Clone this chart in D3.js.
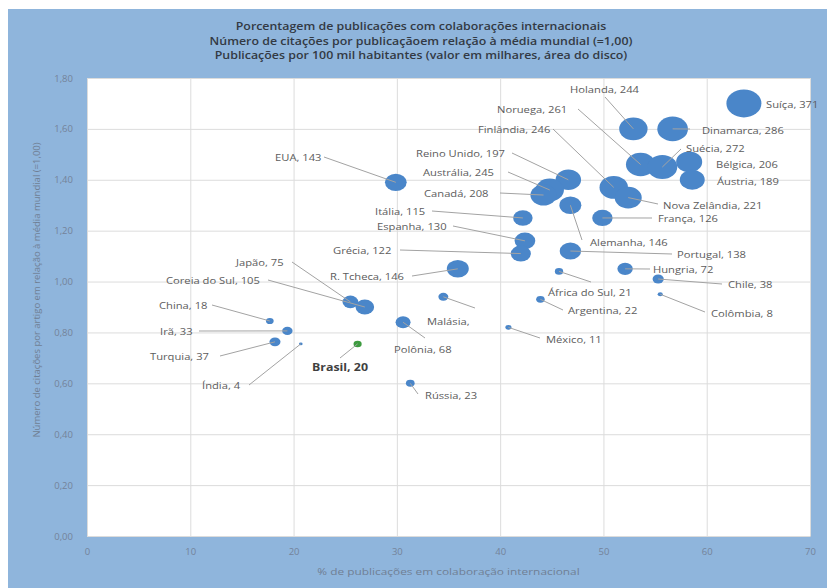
<!DOCTYPE html>
<html>
<head>
<meta charset="utf-8">
<script src="https://cdn.jsdelivr.net/npm/d3@7"></script>
<style>
  body { margin: 0; background: #fff; }
  text { font-family: "Open Sans", sans-serif; }
</style>
</head>
<body>
<div id="chart"></div>
<script>
// data
const countries = ["Suíça", "Holanda", "Dinamarca", "Noruega", "Suécia", "Bélgica", "Áustria",
    "Finlândia", "Nova Zelândia", "Reino Unido", "Austrália", "Canadá", "Alemanha", "França",
    "Itália", "Espanha", "Grécia", "Portugal", "Hungria", "Chile", "Colômbia", "África do Sul",
    "Argentina", "México", "Malásia", "R. Tcheca", "Polônia", "Rússia", "Brasil", "Índia",
    "Japão", "Coreia do Sul", "China", "Irã", "Turquia", "EUA"];
const colab = [63.6, 52.9, 56.7, 53.6, 55.7, 58.3, 58.6,
    51.0, 52.4, 46.6, 44.8, 44.2, 46.8, 49.9,
    42.2, 42.4, 42.0, 46.8, 52.1, 55.3, 55.5, 45.7,
    43.9, 40.8, 34.5, 35.9, 30.6, 31.3, 26.2, 20.7,
    25.5, 26.9, 17.7, 19.4, 18.2, 29.9];
const citacoes = [1.70, 1.60, 1.60, 1.46, 1.45, 1.47, 1.40,
    1.37, 1.33, 1.40, 1.36, 1.34, 1.30, 1.25,
    1.25, 1.16, 1.11, 1.12, 1.05, 1.01, 0.95, 1.04,
    0.93, 0.82, 0.94, 1.05, 0.84, 0.60, 0.755, 0.755,
    0.92, 0.90, 0.845, 0.806, 0.763, 1.39];
const pubs = [371, 244, 286, 261, 272, 206, 189,
    246, 221, 197, 245, 208, 146, 126,
    115, 130, 122, 138, 72, 38, 8, 21,
    22, 11, 30, 146, 68, 23, 20, 4,
    75, 105, 18, 33, 37, 143];
const xTicks = [0, 10, 20, 30, 40, 50, 60, 70];
const yTicks = [0, 0.2, 0.4, 0.6, 0.8, 1.0, 1.2, 1.4, 1.6, 1.8];
const titleLines = [
    "Porcentagem de publicações com colaborações internacionais",
    "Número de citações por publicaçãoem relação à média mundial (=1,00)",
    "Publicações por 100 mil habitantes (valor em milhares, área do disco)"
];

// where each label sits (text left, text middle, start of leader line)
const labelPos = {
    "Suíça": [766, 104], "Holanda": [570, 89, 605, 97], "Dinamarca": [702, 130, 690, 129],
    "Noruega": [497, 109, 578, 109], "Suécia": [686, 148, 681, 149], "Bélgica": [716, 164],
    "Áustria": [717, 181], "Finlândia": [478, 129, 553, 129], "Nova Zelândia": [663, 205, 658, 204],
    "Reino Unido": [416, 153, 512, 153], "Austrália": [423, 172, 508, 172], "Canadá": [424, 193, 500, 193],
    "Alemanha": [590, 242, 582, 240], "França": [658, 218, 652, 218], "Itália": [375, 211, 432, 211],
    "Espanha": [377, 226, 453, 226], "Grécia": [333, 250, 400, 250], "Portugal": [677, 254, 672, 254],
    "Hungria": [653, 269, 650, 269], "Chile": [728, 284, 722, 284], "Colômbia": [711, 313, 705, 312],
    "África do Sul": [548, 292, 591, 282], "Argentina": [568, 310, 563, 310], "México": [546, 339, 540, 338],
    "Malásia": [427, 321, 475, 308], "R. Tcheca": [330, 276, 412, 276], "Polônia": [394, 349, 425, 338],
    "Rússia": [425, 395, 418, 394], "Brasil": [312, 367, 340, 358], "Índia": [202, 385, 249, 385],
    "Japão": [236, 262, 292, 262], "Coreia do Sul": [166, 280, 268, 280], "China": [159, 305, 212, 305],
    "Irã": [160, 331, 199, 331], "Turquia": [150, 356, 220, 356], "EUA": [275, 157, 324, 157]
};

let width = 827, height = 588;
let plot = {left: 87, right: 810, top: 78, bottom: 536};
let stretch = 1.18; // the source picture is widened a little

let svg = d3.select("#chart").append("svg")
    .attr("width", width)
    .attr("height", height);

// blue frame
svg.append("rect")
    .attr("x", 8).attr("y", 9)
    .attr("width", width - 8).attr("height", height - 9)
    .attr("fill", "#8fb5dc");

svg.append("rect")
    .attr("x", plot.left).attr("y", plot.top)
    .attr("width", plot.right - plot.left).attr("height", plot.bottom - plot.top)
    .attr("fill", "#ffffff");

let x = d3.scaleLinear().domain([0, 70]).range([plot.left, plot.right]);
let y = d3.scaleLinear().domain([0, 1.8]).range([plot.bottom, plot.top]);
let r = d3.scaleSqrt().domain([0, 371]).range([0, 14]);

let fmt = d => d3.format(".2f")(d).replace(".", ",");

// grid
svg.append("g")
    .attr("transform", "translate(0," + plot.bottom + ")")
    .call(d3.axisBottom(x).tickValues(xTicks).tickSize(-(plot.bottom - plot.top)).tickFormat(""))
    .call(g => g.select(".domain").attr("stroke", "#cfcfcf"))
    .call(g => g.selectAll(".tick line").attr("stroke", "#dcdcdc"));

svg.append("g")
    .attr("transform", "translate(" + plot.left + ",0)")
    .call(d3.axisLeft(y).tickValues(yTicks).tickSize(-(plot.right - plot.left)).tickFormat(""))
    .call(g => g.select(".domain").remove())
    .call(g => g.selectAll(".tick line").attr("stroke", "#dcdcdc"));

// tick labels
svg.append("g")
    .attr("transform", "translate(0," + plot.bottom + ")")
    .call(d3.axisBottom(x).tickValues(xTicks).tickSize(0).tickPadding(12))
    .call(g => g.select(".domain").remove())
    .call(g => g.selectAll("text").attr("fill", "#74839a").style("font-size", "9.5px")
        .style("font-family", "'Open Sans', sans-serif"));

svg.append("g")
    .attr("transform", "translate(" + (plot.left - 14) + ",0)")
    .call(d3.axisLeft(y).tickValues(yTicks).tickSize(0).tickPadding(0).tickFormat(fmt))
    .call(g => g.select(".domain").remove())
    .call(g => g.selectAll("text").attr("fill", "#74839a").style("font-size", "9.5px")
        .style("font-family", "'Open Sans', sans-serif"));

// axis titles
svg.append("text")
    .attr("transform", "translate(" + ((plot.left + plot.right) / 2) + ",575) scale(1.25,1)")
    .attr("text-anchor", "middle")
    .attr("fill", "#6f7f94")
    .style("font-size", "9.5px")
    .text("% de publicações em colaboração internacional");

svg.append("text")
    .attr("transform", "translate(40," + 290 + ") rotate(-90)")
    .attr("text-anchor", "middle")
    .attr("fill", "#6f7f94")
    .style("font-size", "9.5px")
    .text("Número de citações por artigo em relação à média mundial (=1,00)");

// title
svg.append("g").selectAll("text")
    .data(titleLines).enter()
    .append("text")
    .attr("transform", (d, i) => "translate(421," + (30 + i * 14.5) + ") scale(" + stretch + ",1)")
    .attr("text-anchor", "middle")
    .attr("fill", "#333a44")
    .style("font-size", "10.5px")
    .style("font-weight", 600)
    .text(d => d);

let rows = countries.map((c, i) => ({name: c, cx: colab[i], cy: citacoes[i], size: pubs[i]}));

// bubbles (the picture is a bit stretched sideways)
svg.append("g").selectAll("ellipse")
    .data(rows).enter()
    .append("ellipse")
    .attr("cx", d => x(d.cx))
    .attr("cy", d => y(d.cy))
    .attr("rx", d => Math.max(1.6, r(d.size) * 1.25))
    .attr("ry", d => Math.max(1.3, r(d.size)))
    .attr("fill", d => d.name == "Brasil" ? "#3d9b3f" : "#4a86c9");

// leader lines
svg.append("g").selectAll("line")
    .data(rows.filter(d => labelPos[d.name].length > 2)).enter()
    .append("line")
    .attr("x1", d => labelPos[d.name][2])
    .attr("y1", d => labelPos[d.name][3])
    .attr("x2", d => x(d.cx))
    .attr("y2", d => y(d.cy))
    .attr("stroke", "#a3a3a3")
    .attr("stroke-width", 1);

// labels
svg.append("g").selectAll("text")
    .data(rows).enter()
    .append("text")
    .attr("transform", d => "translate(" + labelPos[d.name][0] + "," + (labelPos[d.name][1] + 3.5) + ") scale(" + stretch + ",1)")
    .attr("fill", d => d.name == "Brasil" ? "#3f3f3f" : "#5c5c5c")
    .style("font-size", d => d.name == "Brasil" ? "10.5px" : "9.5px")
    .style("font-weight", d => d.name == "Brasil" ? 700 : 400)
    .text(d => d.name == "Malásia" ? "Malásia," : d.name + ", " + d.size);
</script>
</body>
</html>
